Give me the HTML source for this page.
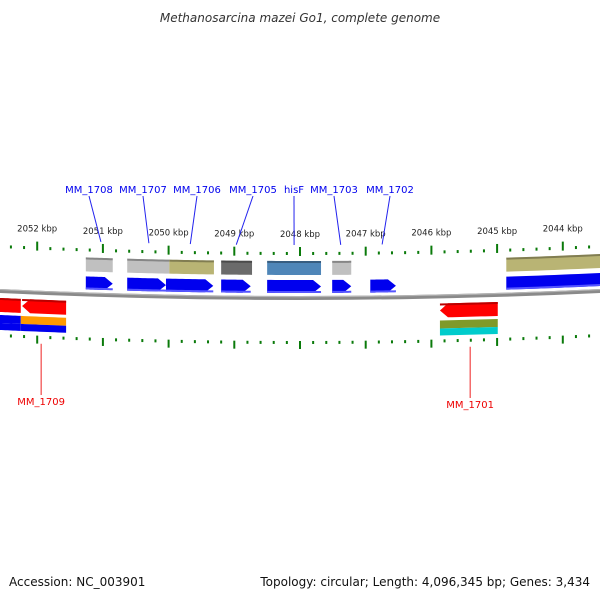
<!DOCTYPE html>
<html><head><meta charset="utf-8"><style>
body{margin:0;background:#fff}
svg{display:block;font-family:"DejaVu Sans","Liberation Sans",sans-serif}
</style></head><body>
<svg id="map" width="600" height="600" viewBox="0 0 600 600" xmlns="http://www.w3.org/2000/svg">
<text x="300" y="22" text-anchor="middle" font-size="12" font-style="italic" fill="#333">Methanosarcina mazei Go1, complete genome</text>
<text x="9" y="586" font-size="12" fill="#111">Accession: NC_003901</text>
<text x="590" y="586" text-anchor="end" font-size="12" fill="#111">Topology: circular; Length: 4,096,345 bp; Genes: 3,434</text>
<g id="layer"></g>
</svg>
<script>
// data (kbp positions)
const tickKbp = [2052,2051,2050,2049,2048,2047,2046,2045,2044];
const tickLabels = ["2052 kbp","2051 kbp","2050 kbp","2049 kbp","2048 kbp","2047 kbp","2046 kbp","2045 kbp","2044 kbp"];
const rowAStart = [2051.26,2050.63,2049.99,2049.20,2048.50,2047.51,2044.86];
const rowAEnd   = [2050.85,2049.99,2049.31,2048.73,2047.68,2047.22,2043.40];
const rowAColor = ["#c0c0c0","#c0c0c0","#b9b474","#6b6b6b","#4f86b8","#c0c0c0","#b9b474"];
const rowBStart = [2051.26,2050.63,2050.04,2049.20,2048.50,2047.51,2046.93,2044.86];
const rowBEnd   = [2050.85,2050.04,2049.32,2048.75,2047.68,2047.22,2046.54,2043.40];
const rowCStart = [2052.60,2052.23,2045.87];
const rowCEnd   = [2052.25,2051.56,2044.99];
const rowDStart = [2052.60,2052.25,2045.87];
const rowDEnd   = [2052.25,2051.56,2044.99];
const rowDTop = ["#0000ee","#ff9900","#7f9a2a"];
const rowDBot = ["#0000ee","#0000ee","#00cccc"];
const geneNames = ["MM_1708","MM_1707","MM_1706","MM_1705","hisF","MM_1703","MM_1702"];
const geneLabelX = [89,143,197,253,294,334,390];
const geneTarget = [2051.03,2050.30,2049.67,2048.97,2048.09,2047.38,2046.75];
const revNames = ["MM_1709","MM_1701"];
const revKbp = [2051.94,2045.41];

const NS="http://www.w3.org/2000/svg", L=document.getElementById('layer');
const X = k => 300 - (k-2048)*65.7;
const R=6400; const c = x => R - Math.sqrt(R*R-(x-300)*(x-300));
function el(t,a,name){const e=document.createElementNS(NS,t);for(const k in a)e.setAttribute(k,a[k]);


L.appendChild(e);return e;}
function band(x1,x2,y1,y2,fill,name,arrow){
  const pts=[];const n=12;
  const a=Math.min(x1,x2),b=Math.max(x1,x2);
  let bb=b, aa=a;
  if(arrow===1) bb=b-8; if(arrow===-1) aa=a+8;
  for(let i=0;i<=n;i++){const x=aa+(bb-aa)*i/n;pts.push([x,y1-c(x)]);}
  if(arrow===1) pts.push([b,(y1+y2)/2-c(b)]);
  for(let i=n;i>=0;i--){const x=aa+(bb-aa)*i/n;pts.push([x,y2-c(x)]);}
  if(arrow===-1) pts.push([a,(y1+y2)/2-c(a)]);
  el('polygon',{points:pts.map(p=>p.join(',')).join(' '),fill:fill},name);
}
band(-5,605,296,300,"#8a8a8a","backbone");
band(-5,605,296,297.2,"#b5b5b5","backbone-highlight");
for(let k=2053;k>=2043;k-=0.2){
  const kk=Math.round(k*10)/10, x=X(kk); if(x<-2||x>602)continue;
  const major=Math.abs(kk-Math.round(kk))<0.01;
  if(major){
    el('line',{x1:x,x2:x,y1:247-c(x),y2:256-c(x),stroke:"#0a7a0a","stroke-width":2},"top-major-tick");
    el('line',{x1:x,x2:x,y1:341-c(x),y2:349-c(x),stroke:"#0a7a0a","stroke-width":2},"bottom-major-tick");
  } else {
    el('rect',{x:x-1,y:252-c(x),width:2,height:3,fill:"#0a7a0a"},"top-minor-tick");
    el('rect',{x:x-1,y:341-c(x),width:2,height:3,fill:"#0a7a0a"},"bottom-minor-tick");
  }
}
tickKbp.forEach((k,i)=>{const x=X(k);const t=el('text',{x:x,y:237-c(x),"text-anchor":"middle","font-size":8.5,fill:"#222"},"tick-label");t.textContent=tickLabels[i];});
rowAStart.forEach((s,i)=>{const x1=X(s),x2=X(rowAEnd[i]);band(x1,x2,261,275,rowAColor[i],"feature-box");band(x1,x2,261,263,"rgba(0,0,0,0.3)","feature-box-edge");});
rowBStart.forEach((s,i)=>{const x1=X(s),x2=X(rowBEnd[i]);const last=i===rowBStart.length-1;band(x1,x2,280,293,"#0000ee","forward-cds",last?0:1);band(x1,x2,291,293,"#5555ff","forward-cds-shade",0);});
rowCStart.forEach((s,i)=>{const x1=X(s),x2=X(rowCEnd[i]);band(x1,x2,305,319,"#ff0000","reverse-cds",i===0?0:-1);band(x1,x2,305,307,"#bb0000","reverse-cds-edge",0);});
rowDStart.forEach((s,i)=>{const x1=X(s),x2=X(rowDEnd[i]);band(x1,x2,322,330,rowDTop[i],"feature-top");band(x1,x2,330,337,rowDBot[i],"feature-bottom");});
geneNames.forEach((g,i)=>{const lx=geneLabelX[i], tx=X(geneTarget[i]);
  el('line',{x1:lx,y1:196,x2:tx,y2:245-c(tx),stroke:"#2222ee","stroke-width":1},"label-connector");
  const t=el('text',{x:lx,y:193,"text-anchor":"middle","font-size":10,fill:"#0000ee"},"gene-label");t.textContent=g;});
const revLabelY=[405,408];
revNames.forEach((g,i)=>{const x=X(revKbp[i]);
  el('line',{x1:x,y1:349-c(x),x2:x,y2:revLabelY[i]-10,stroke:"#ee2222","stroke-width":1},"label-connector");
  const t=el('text',{x:x,y:revLabelY[i],"text-anchor":"middle","font-size":10,fill:"#ee0000"},"gene-label");t.textContent=g;});
</script>
</body></html>
